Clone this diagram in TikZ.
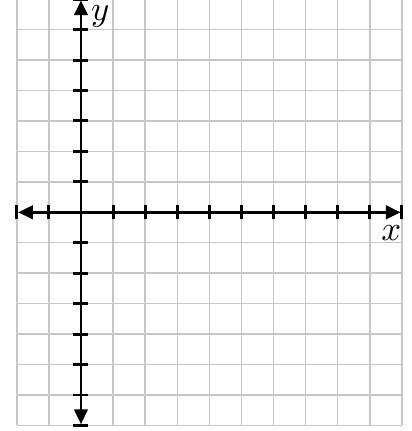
\documentclass[tikz,border=0pt]{standalone}
\usepackage{graphicx}
\usepackage{tikz}
\usetikzlibrary{arrows.meta}

\begin{document}
\begin{tikzpicture}[x=24.075pt, y=22.84pt]
        \tikzstyle{gridline}=[draw=black!22, line width=1.1pt]
        \tikzstyle{axis}=[line width=2.2pt, shorten <=1pt, shorten >=1pt,
            {Triangle[length=11pt,width=10pt]}-{Triangle[length=11pt,width=10pt]}]
        \tikzstyle{tick}=[line width=2.2pt]
        \tikzstyle{axislabel}=[inner sep=0pt]
            \useasboundingbox (-2.523,-7.182) rectangle (10.312,6.972);

            % grid
            \foreach \i in {-2,...,10}
                \draw[gridline] (\i,-7) -- (\i,7);
            \foreach \j in {-7,...,7}
                \draw[gridline] (-2,\j) -- (10,\j);

            \coordinate (xl) at (-2,0);
            \coordinate (xr) at (10,0);
            \coordinate (yb) at (0,-7);
            \coordinate (yt) at (0,7);

            % ticks
            \foreach \i in {-2,-1,1,2,...,10}
                \draw[tick] (\i,-0.23) -- (\i,0.23);
            \foreach \j in {-7,...,-1,1,2,...,7}
                \draw[tick] (-0.234,\j) -- (0.234,\j);

            \draw[axis] (xl) -- (xr);
            \draw[axis] (yb) -- (yt);

            \node[axislabel] (ylabel) at (0.6,6.42) {\scalebox{2.6}{$y$}};
            \node[axislabel] (xlabel) at (9.67,-0.69) {\scalebox{2.6}{$x$}};
        \end{tikzpicture}
\end{document}
